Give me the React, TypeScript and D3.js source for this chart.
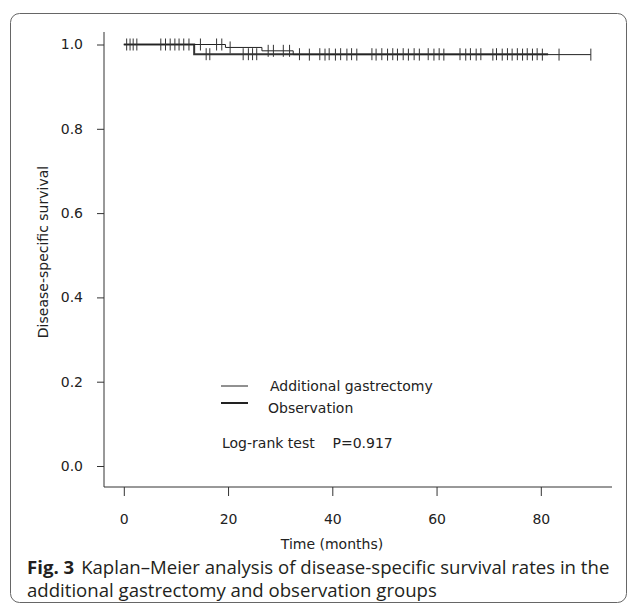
import * as d3 from "d3";
import { useRef, useEffect } from "react";

const width = 629;
const height = 607;

// Kaplan–Meier steps
const obsStepTimes = [0, 13.5];
const obsStepSurv = [1.0, 0.977];
const obsEnd = 81.4;
const obsCensor = [
  0.55, 1.8, 7.1, 8.9, 10.6, 12.5, 15.8, 16.5, 22.9, 23.9, 24.7, 25.5, 33.7, 37.6, 39.4,
  41.6, 43.7, 47.6, 49.5, 51.6, 53.6, 55.7, 58.4, 60.5, 64.5, 66.5, 68.5, 71.5, 73.6,
  75.5, 77.4, 79.3,
];

const addStepTimes = [0, 19.5, 26.5, 32.5];
const addStepSurv = [1.0, 0.993, 0.985, 0.976];
const addEnd = 89.6;
const addCensor = [
  1.2, 2.5, 8.0, 9.8, 11.5, 14.7, 17.8, 18.8, 20.4, 27.7, 28.7, 30.6, 31.8, 35.6, 38.6,
  40.6, 42.8, 44.7, 48.4, 50.6, 52.5, 54.6, 56.7, 59.5, 61.4, 65.6, 67.6, 70.8, 72.6,
  74.5, 76.5, 78.4, 80.3, 83.5, 89.6,
];

const xTicks = [0, 20, 40, 60, 80];
const yTicks = [0, 0.2, 0.4, 0.6, 0.8, 1.0];

const font = "'DejaVu Sans', sans-serif";
const captionFont = "'Open Sans', 'Noto Sans', sans-serif";

const x = d3.scaleLinear().domain([0, 80]).range([123.8, 540.8]);
const y = d3.scaleLinear().domain([0, 1]).range([466, 44.5]);

const survAt = (times, surv, t) => {
  let s = surv[0];
  times.forEach((tt, i) => {
    if (t >= tt) s = surv[i];
  });
  return s;
};

const stepPoints = (times, surv, end) => {
  const pts = times.map((t, i) => [t, surv[i]]);
  pts.push([end, surv[surv.length - 1]]);
  return pts;
};

const stepLine = d3
  .line()
  .x((d) => x(d[0]))
  .y((d) => y(d[1]))
  .curve(d3.curveStepAfter);

export default function App() {
  const xAxisRef = useRef(null);
  const yAxisRef = useRef(null);

  useEffect(() => {
    const g = d3.select(xAxisRef.current);
    g.call(
      d3.axisBottom(x).tickValues(xTicks).tickSize(9).tickPadding(18).tickSizeOuter(0)
    );
    g.select(".domain").remove();
    g.selectAll("line").attr("stroke", "#333");
    g.selectAll("text").attr("fill", "#222").style("font-family", font).style("font-size", "14px");
  }, []);

  useEffect(() => {
    const g = d3.select(yAxisRef.current);
    g.call(
      d3
        .axisLeft(y)
        .tickValues(yTicks)
        .tickFormat(d3.format(".1f"))
        .tickSize(7)
        .tickPadding(14)
        .tickSizeOuter(0)
    );
    g.select(".domain").remove();
    g.selectAll("line").attr("stroke", "#333");
    g.selectAll("text").attr("fill", "#222").style("font-family", font).style("font-size", "14px");
  }, []);

  const obsPts = stepPoints(obsStepTimes, obsStepSurv, obsEnd);
  const addPts = stepPoints(addStepTimes, addStepSurv, addEnd);

  return (
    <svg
      width={width}
      height={height}
      style={{ position: "absolute", left: 0, top: 0, background: "#fff" }}
    >
      <rect x={10.5} y={13.5} width={616} height={589} rx={9} fill="none" stroke="#666" />

      {/* axes */}
      <line x1={104} x2={104} y1={32} y2={487} stroke="#333" />
      <line x1={104} x2={612} y1={487} y2={487} stroke="#333" />
      <g ref={yAxisRef} transform="translate(104,0)" />
      <g ref={xAxisRef} transform="translate(0,487)" />

      {/* curves */}
      <path d={stepLine(obsPts)} fill="none" stroke="#333" strokeWidth={2} />
      <path d={stepLine(addPts)} fill="none" stroke="#222" strokeWidth={1} />

      {obsCensor.map((t) => {
        const s = survAt(obsStepTimes, obsStepSurv, t);
        return (
          <line key={"o" + t} x1={x(t)} x2={x(t)} y1={y(s) - 6} y2={y(s) + 6} stroke="#333" />
        );
      })}
      {addCensor.map((t) => {
        const s = survAt(addStepTimes, addStepSurv, t);
        return (
          <line key={"a" + t} x1={x(t)} x2={x(t)} y1={y(s) - 6} y2={y(s) + 6} stroke="#333" />
        );
      })}

      {/* axis titles */}
      <text x={332} y={549} textAnchor="middle" fontFamily={font} fontSize={14} fill="#222">
        Time (months)
      </text>
      <text
        transform="translate(48,252) rotate(-90)"
        textAnchor="middle"
        fontFamily={font}
        fontSize={14}
        fill="#222"
      >
        Disease-specific survival
      </text>

      {/* legend */}
      <line x1={221} x2={248} y1={386} y2={386} stroke="#222" strokeWidth={1} />
      <text x={270} y={391} fontFamily={font} fontSize={14} fill="#222">
        Additional gastrectomy
      </text>
      <line x1={221} x2={248} y1={403} y2={403} stroke="#222" strokeWidth={2} />
      <text x={268} y={413} fontFamily={font} fontSize={14} fill="#222">
        Observation
      </text>
      <text x={222} y={448} fontFamily={font} fontSize={14} fill="#222" xmlSpace="preserve">
        {"Log-rank test    P=0.917"}
      </text>

      {/* caption */}
      <text x={27} y={574} fontFamily={captionFont} fontSize={18.6} fill="#231f20">
        <tspan fontWeight="bold">Fig. 3</tspan>
        <tspan dx={7}>Kaplan–Meier analysis of disease-specific survival rates in the</tspan>
      </text>
      <text x={27} y={597} fontFamily={captionFont} fontSize={18.6} fill="#231f20">
        additional gastrectomy and observation groups
      </text>
    </svg>
  );
}
